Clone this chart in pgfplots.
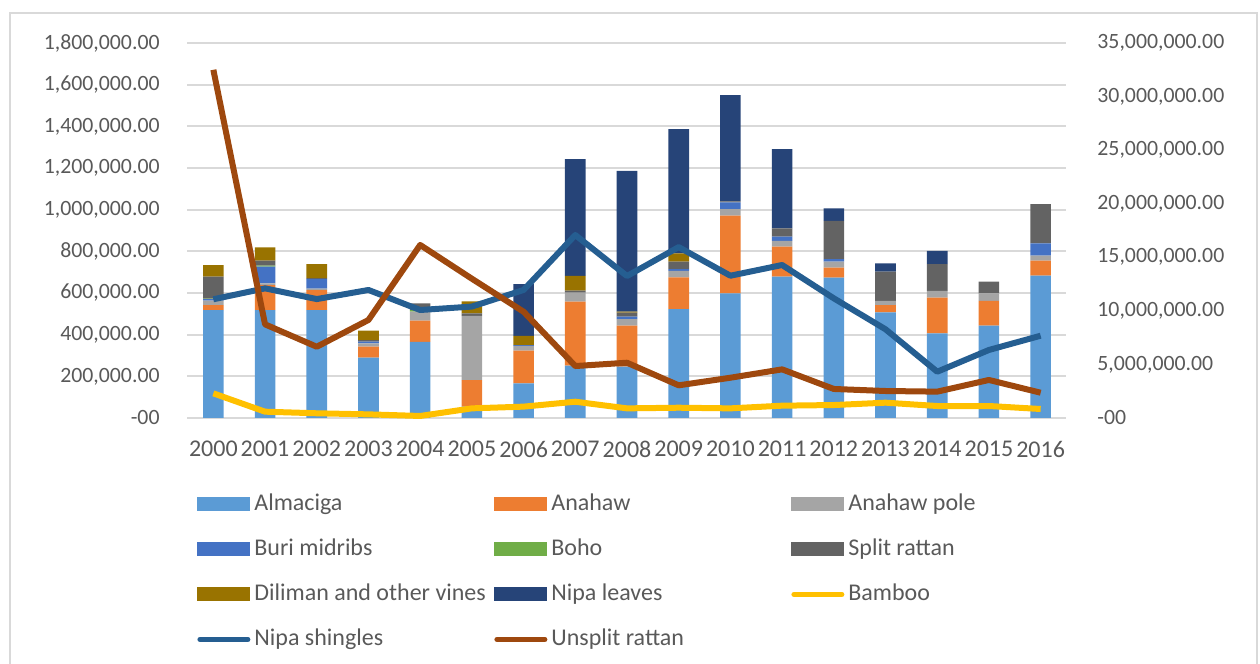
\documentclass[border=0pt]{standalone}
\usepackage{pgfplots}
\pgfplotsset{compat=1.18}
\usepackage{pgfplotstable}
\usepackage{fontspec}
\setmainfont{Carlito}

\definecolor{almc}{HTML}{5B9BD5}
\definecolor{anahc}{HTML}{ED7D31}
\definecolor{polec}{HTML}{A5A5A5}
\definecolor{buric}{HTML}{4472C4}
\definecolor{bohoc}{HTML}{70AD47}
\definecolor{splitc}{HTML}{636363}
\definecolor{dilc}{HTML}{997300}
\definecolor{nipac}{HTML}{264478}
\definecolor{bambooc}{HTML}{FFC000}
\definecolor{shinglec}{HTML}{255E91}
\definecolor{rattanc}{HTML}{9E480E}
\definecolor{gridc}{HTML}{D9D9D9}
\definecolor{textc}{HTML}{595959}

% stacked bars, left axis
\pgfplotstableread{
year alm    anah   pole   buri  boho split  dil   nipa
0    518000 24000  21000  8000  2000 105000 56000 0
1    518000 120000 8000   80000 5000 24000  64000 0
2    518000 96000  7000   45000 0    5000   67000 0
3    290000 52000  16000  8000  0    8000   45000 0
4    365000 102000 43000  0     8000 32000  0     0
5    54000  128000 308000 0     0    12000  58000 0
6    166000 157000 23000  4000  0    0      44000 248000
7    251000 307000 44000  0     0    9000   71000 560000
8    246000 197000 32000  11000 0    20000  4000  676000
9    523000 152000 31000  9000  0    35000  40000 597000
10   598000 373000 31000  33000 0    5000   0     510000
11   678000 144000 28000  20000 0    40000  0     380000
12   674000 48000  28000  12000 0    184000 0     60000
13   507000 35000  20000  0     0    140000 0     40000
14   406000 172000 32000  0     0    128000 0     64000
15   443000 119000 36000  0     0    56000  0     0
16   683000 72000  24000  59000 0    189000 0     0
}\bars

% lines, right axis
\pgfplotstableread{
year bamboo  shingles rattan
0    2300000 11080000 32500000
1    590000  12100000 8740000
2    440000  11100000 6650000
3    340000  11950000 9150000
4    190000  10080000 16150000
5    900000  10400000 13000000
6    1060000 11950000 9920000
7    1520000 17080000 4850000
8    900000  13250000 5160000
9    960000  15950000 3050000
10   900000  13280000 3760000
11   1150000 14280000 4540000
12   1210000 11170000 2710000
13   1430000 8280000  2520000
14   1120000 4320000  2460000
15   1120000 6350000  3550000
16   840000  7680000  2360000
}\lines

\newcommand{\leg}[1]{\makebox[120pt][l]{#1}}

\pgfplotsset{
  barleg/.style={legend image code/.code={\fill[##1, draw=none] (0pt,-3.5pt) rectangle (26.5pt,3.5pt);}},
  lineleg/.style={legend image code/.code={\draw[##1, line width=2.5pt, line cap=round] (1.25pt,0pt) -- (25.25pt,0pt);}},
  common/.style={
    scale only axis, width=439.5pt, height=187.5pt,
    xmin=-0.5, xmax=16.5,
    scaled y ticks=false,
    axis line style={draw=none}, tick style={draw=none},
    major tick length=0pt,
    yticklabel style={font=\fontsize{10.9}{13}\selectfont, text=textc, inner sep=0pt},
  },
}

\begin{document}
\begin{tikzpicture}
\useasboundingbox (-93.75pt,-123pt) rectangle (536.25pt,209pt);
\draw[gridc, line width=0.75pt] (-88.75pt,-140pt) rectangle (534.75pt,202.5pt);

\begin{axis}[
  common,
  ymin=0, ymax=1800000,
  ybar stacked, bar width=10.3pt,
  xtick={0,...,16},
  xticklabels={2000,2001,2002,2003,2004,2005,2006,2007,2008,2009,2010,2011,2012,2013,2014,2015,2016},
  xticklabel style={font=\fontsize{12}{14}\selectfont, text=textc, inner sep=0pt},
  xticklabel shift=11.5pt,
  ytick={0,200000,400000,600000,800000,1000000,1200000,1400000,1600000,1800000},
  yticklabels={-00,{200,000.00},{400,000.00},{600,000.00},{800,000.00},{1,000,000.00},{1,200,000.00},{1,400,000.00},{1,600,000.00},{1,800,000.00}},
  yticklabel shift=13.75pt,
  ymajorgrids, grid style={gridc, line width=0.9pt},
  every axis plot/.append style={draw=none},
]
\addplot[fill=almc] table[x=year, y=alm] {\bars};
\addplot[fill=anahc] table[x=year, y=anah] {\bars};
\addplot[fill=polec] table[x=year, y=pole] {\bars};
\addplot[fill=buric] table[x=year, y=buri] {\bars};
\addplot[fill=bohoc] table[x=year, y=boho] {\bars};
\addplot[fill=splitc] table[x=year, y=split] {\bars};
\addplot[fill=dilc] table[x=year, y=dil] {\bars};
\addplot[fill=nipac] table[x=year, y=nipa] {\bars};
\end{axis}

\begin{axis}[
  common,
  ymin=0, ymax=35000000,
  axis x line=none, axis y line*=right,
  ytick={0,5000000,10000000,15000000,20000000,25000000,30000000,35000000},
  yticklabels={-00,{5,000,000.00},{10,000,000.00},{15,000,000.00},{20,000,000.00},{25,000,000.00},{30,000,000.00},{35,000,000.00}},
  yticklabel shift=15.25pt,
  legend columns=3,
  legend style={
    at={(axis description cs:0,0)}, anchor=north west,
    xshift=4.75pt, yshift=-37pt,
    draw=none, fill=none, inner sep=0pt,
    font=\fontsize{12}{14}\selectfont, text=textc,
    cells={anchor=west},
    nodes={inner sep=0pt, text height=9pt, text depth=3pt},
    row sep=10.5pt,
    /tikz/every odd column/.append style={column sep=2pt},
  },
]
\addlegendimage{barleg, fill=almc}\addlegendentry{\leg{Almaciga}}
\addlegendimage{barleg, fill=anahc}\addlegendentry{\leg{Anahaw}}
\addlegendimage{barleg, fill=polec}\addlegendentry{\leg{Anahaw pole}}
\addlegendimage{barleg, fill=buric}\addlegendentry{\leg{Buri midribs}}
\addlegendimage{barleg, fill=bohoc}\addlegendentry{\leg{Boho}}
\addlegendimage{barleg, fill=splitc}\addlegendentry{\leg{Split rattan}}
\addlegendimage{barleg, fill=dilc}\addlegendentry{\leg{Diliman and other vines}}
\addlegendimage{barleg, fill=nipac}\addlegendentry{\leg{Nipa leaves}}
\addplot[bambooc, line width=3pt, line join=round, lineleg] table[x=year, y=bamboo] {\lines};
\addlegendentry{\leg{Bamboo}}
\addplot[shinglec, line width=3pt, line join=round, lineleg] table[x=year, y=shingles] {\lines};
\addlegendentry{\leg{Nipa shingles}}
\addplot[rattanc, line width=3pt, line join=round, lineleg] table[x=year, y=rattan] {\lines};
\addlegendentry{\leg{Unsplit rattan}}
\end{axis}
\end{tikzpicture}
\end{document}
